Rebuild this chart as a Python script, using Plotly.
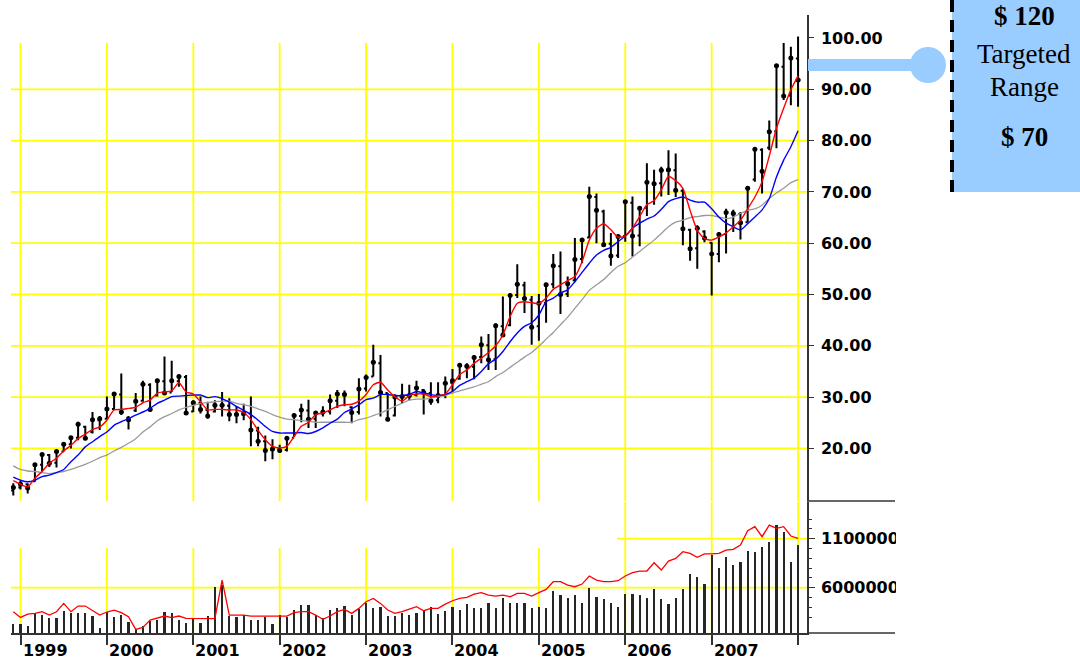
import plotly.graph_objects as go

W, H = 1080, 659

# ---------------- data ----------------
month_names = ["Jan", "Feb", "Mar", "Apr", "May", "Jun", "Jul", "Aug", "Sep", "Oct", "Nov", "Dec"]
months = ["Dec 1998"] + [f"{m} {y}" for y in range(1999, 2008) for m in month_names] + ["Jan 2008"]

year_labels = ["1999", "2000", "2001", "2002", "2003", "2004", "2005", "2006", "2007"]
price_ticks = [20, 30, 40, 50, 60, 70, 80, 90, 100]
grid_prices = [20, 30, 40, 50, 60, 70, 80, 90]
vol_ticks = [6000000, 11000000]
vol_tick_text = ["6000000", "11000000"]
vol_minor = [3000000, 4000000, 5000000, 6000000, 7000000, 8000000, 9000000,
             10000000, 11000000, 12000000, 13000000]

open_ = [11.8, 12.4, 13.0, 13.6, 16.8, 18.7, 17.2, 19.4, 20.8, 22.1,
         24.2, 23.2, 25.5, 25.8, 27.7, 30.5, 26.0, 27.4, 29.3, 32.4,
         30.3, 33.1, 30.9, 33.1, 33.9, 27.2, 28.8, 27.5, 27.2, 28.3,
         28.3, 26.7, 26.6, 26.8, 23.5, 21.4, 19.7, 19.9, 19.7, 22.1,
         26.3, 27.4, 25.8, 26.8, 27.2, 29.3, 30.6, 28.0, 27.1, 31.7,
         34.0, 36.6, 30.8, 26.4, 30.0, 30.2, 30.4, 31.4, 30.8, 29.4,
         30.4, 32.8, 33.6, 36.1, 35.9, 37.8, 40.1, 37.4, 43.8, 44.0,
         49.9, 51.8, 49.0, 43.8, 48.4, 52.0, 55.5, 50.1, 52.8, 56.9,
         61.1, 69.0, 66.2, 59.9, 57.6, 61.4, 67.9, 61.5, 66.9, 71.8,
         71.7, 74.1, 74.2, 70.2, 62.6, 59.0, 62.3, 60.1, 57.9, 61.8,
         66.0, 65.7, 64.1, 72.4, 78.2, 78.6, 81.8, 94.4, 88.8, 96.0]
high = [13.2, 13.7, 13.2, 17.1, 19.0, 18.9, 19.5, 21.1, 22.4, 25.2,
        24.4, 27.1, 26.3, 30.1, 30.8, 34.6, 26.3, 30.8, 33.2, 32.7,
        33.6, 37.9, 37.1, 34.3, 34.3, 29.4, 30.1, 29.1, 29.4, 31.0,
        29.8, 28.2, 28.7, 30.1, 24.2, 22.5, 21.8, 20.7, 22.3, 26.8,
        28.7, 29.5, 27.2, 28.2, 30.5, 31.4, 31.3, 28.2, 33.7, 34.4,
        40.2, 38.2, 30.8, 30.5, 32.6, 32.4, 33.2, 31.6, 32.9, 32.9,
        34.0, 35.5, 36.6, 36.6, 38.2, 41.8, 42.3, 44.4, 49.6, 50.3,
        55.9, 52.5, 49.7, 50.1, 52.3, 57.9, 58.4, 53.5, 61.0, 61.0,
        71.0, 69.7, 66.5, 62.0, 61.6, 68.4, 69.1, 67.1, 75.6, 74.3,
        74.9, 78.1, 77.5, 70.6, 62.8, 63.5, 62.5, 60.2, 62.2, 66.7,
        66.5, 66.1, 70.8, 78.5, 78.5, 83.9, 94.8, 99.0, 98.3, 100.3]
low = [10.8, 12.0, 11.2, 13.5, 15.5, 16.4, 16.3, 19.4, 20.0, 21.6,
       21.6, 22.9, 23.6, 25.8, 27.5, 26.5, 23.7, 27.1, 29.1, 27.5,
       30.1, 30.4, 31.0, 32.0, 26.5, 27.1, 26.8, 25.8, 27.0, 26.2,
       25.3, 24.9, 25.5, 20.4, 20.4, 17.5, 17.9, 19.1, 19.4, 22.3,
       25.1, 24.0, 24.0, 26.2, 26.6, 27.9, 28.2, 24.9, 26.6, 31.1,
       34.0, 26.2, 25.3, 26.2, 28.8, 29.4, 30.1, 26.6, 28.5, 28.8,
       29.8, 31.1, 33.4, 33.7, 33.5, 36.6, 35.3, 35.3, 41.8, 43.8,
       49.3, 46.4, 40.2, 41.0, 44.5, 51.2, 46.2, 49.5, 52.5, 56.1,
       61.0, 60.0, 59.3, 55.6, 57.1, 60.3, 57.4, 59.4, 65.3, 67.5,
       69.1, 69.4, 69.0, 59.6, 56.6, 55.0, 60.2, 49.8, 56.3, 58.0,
       62.2, 60.7, 64.1, 72.0, 69.7, 78.1, 78.5, 87.9, 86.9, 86.6]
close = [12.4, 13.0, 12.3, 16.8, 18.8, 17.1, 19.4, 20.8, 22.1, 24.7,
         22.0, 25.6, 25.8, 27.7, 30.6, 27.1, 25.6, 29.2, 32.5, 27.6,
         33.2, 30.8, 33.2, 34.0, 26.9, 28.9, 27.6, 26.3, 28.4, 28.4,
         26.6, 26.6, 26.8, 23.6, 21.4, 19.6, 19.9, 19.6, 22.0, 26.4,
         27.5, 25.7, 26.9, 27.1, 29.3, 30.6, 30.5, 27.0, 31.6, 33.8,
         36.8, 30.9, 25.7, 30.0, 30.1, 30.3, 31.8, 30.9, 29.3, 30.3,
         32.7, 33.2, 36.2, 36.0, 37.7, 40.2, 37.3, 43.9, 42.1, 49.8,
         52.0, 49.2, 43.6, 48.3, 51.9, 55.6, 50.0, 52.1, 56.8, 60.6,
         69.1, 66.4, 59.7, 57.5, 61.3, 68.1, 61.4, 66.8, 71.9, 71.6,
         74.2, 74.3, 70.3, 62.8, 58.9, 62.9, 61.0, 57.9, 61.7, 66.0,
         65.8, 64.0, 70.7, 78.3, 74.0, 81.7, 94.6, 88.7, 96.1, 91.8]

ma_red = [13.7, 13.0, 12.5, 14.2, 15.5, 17.1, 18.1, 19.5, 20.6, 21.9,
          22.8, 23.7, 24.2, 25.5, 27.5, 27.6, 27.8, 28.0, 28.9, 29.4,
          30.8, 31.0, 31.2, 32.8, 31.0, 30.6, 29.1, 27.5, 27.6, 27.6,
          27.5, 27.5, 27.0, 25.6, 23.5, 21.7, 20.4, 20.1, 20.4, 22.3,
          24.3, 25.1, 26.6, 26.9, 27.5, 28.2, 28.5, 28.6, 29.2, 30.5,
          32.4, 32.9, 31.4, 30.1, 29.2, 30.3, 30.6, 30.6, 30.1, 30.3,
          30.6, 32.4, 34.4, 35.3, 36.6, 37.6, 38.7, 40.0, 42.1, 45.7,
          48.3, 48.6, 48.4, 48.2, 49.3, 51.0, 51.9, 52.7, 53.5, 56.4,
          60.6, 62.9, 63.8, 62.6, 61.2, 61.4, 62.9, 65.2, 67.5, 68.3,
          70.4, 73.0, 72.2, 70.7, 66.4, 62.5, 60.9, 60.6, 61.2, 62.0,
          63.2, 64.5, 66.7, 69.0, 72.0, 77.0, 82.4, 86.3, 89.9, 92.6]
ma_blue = [14.4, 13.8, 13.5, 13.8, 14.5, 14.8, 15.3, 15.9, 17.4, 18.7,
           20.3, 21.3, 22.3, 23.2, 24.5, 25.2, 25.8, 26.5, 27.1, 27.8,
           28.8, 29.4, 30.1, 30.2, 30.3, 30.4, 30.4, 29.9, 30.1, 29.7,
           29.0, 28.2, 27.4, 26.6, 25.5, 24.3, 23.3, 23.0, 23.0, 23.0,
           23.1, 22.9, 23.3, 24.0, 24.9, 25.7, 27.0, 27.7, 28.5, 29.5,
           29.8, 30.5, 30.5, 30.3, 30.3, 30.5, 31.1, 30.8, 30.5, 30.3,
           30.5, 31.1, 32.3, 33.0, 33.7, 35.0, 36.5, 37.4, 38.9, 40.8,
           42.5, 43.8, 44.5, 46.0, 48.6, 49.3, 50.3, 50.9, 52.5, 54.3,
           56.1, 57.7, 58.6, 59.2, 60.3, 61.4, 62.9, 63.9, 64.7, 65.3,
           66.6, 68.1, 68.7, 69.0, 68.4, 68.0, 68.0, 66.7, 65.1, 63.9,
           63.2, 62.6, 63.8, 65.1, 66.5, 68.7, 72.9, 76.2, 78.8, 81.9]
ma_gray = [16.6, 15.9, 15.6, 15.5, 15.3, 15.1, 15.3, 15.5, 15.9, 16.4,
           16.9, 17.5, 18.2, 18.7, 19.5, 20.2, 21.0, 21.9, 23.2, 24.2,
           25.4, 26.2, 26.8, 27.5, 28.0, 28.4, 28.8, 28.9, 29.1, 29.2,
           29.2, 28.8, 28.5, 28.2, 27.7, 27.2, 26.6, 26.1, 25.7, 25.6,
           25.4, 25.3, 25.1, 25.1, 25.1, 25.1, 25.1, 25.1, 25.6, 25.9,
           26.4, 26.9, 27.5, 28.2, 28.8, 29.4, 29.6, 29.6, 29.8, 30.1,
           30.3, 30.8, 31.2, 31.6, 32.0, 32.5, 33.0, 34.0, 34.8, 35.8,
           36.8, 37.8, 38.7, 39.9, 41.3, 42.6, 44.1, 45.6, 47.3, 49.0,
           50.8, 51.9, 52.9, 54.3, 55.5, 56.2, 57.3, 58.4, 59.5, 60.6,
           61.9, 63.2, 64.1, 64.5, 65.0, 65.2, 65.4, 65.4, 65.1, 64.8,
           65.1, 65.8, 66.4, 66.7, 67.4, 68.7, 69.8, 70.7, 71.8, 72.4]

volume = [2290000, 2290000, 2120000, 3380000, 3210000, 2870000, 2870000, 3650000, 3380000, 3380000,
          3450000, 3140000, 1900000, 3550000, 3040000, 3210000, 2530000, 1750000, 2090000, 2630000,
          2700000, 3550000, 3380000, 2700000, 2430000, 2770000, 2360000, 3110000, 6100000, 6270000,
          3110000, 3040000, 3210000, 2700000, 2700000, 3040000, 2290000, 3210000, 3040000, 3720000,
          4230000, 4230000, 3210000, 2870000, 3720000, 3890000, 4130000, 3210000, 3790000, 4400000,
          3890000, 3990000, 3110000, 3110000, 3450000, 3210000, 3450000, 3650000, 3990000, 3310000,
          3620000, 4060000, 3720000, 4330000, 3890000, 3890000, 4470000, 3890000, 4910000, 4470000,
          4470000, 4470000, 3890000, 4060000, 3890000, 5690000, 5220000, 4910000, 5220000, 4470000,
          5930000, 5080000, 4810000, 4470000, 4060000, 5350000, 5350000, 5220000, 4910000, 5830000,
          4810000, 4330000, 4910000, 5830000, 7390000, 7120000, 6370000, 9330000, 7970000, 9160000,
          8280000, 8620000, 9780000, 9640000, 10180000, 10630000, 12390000, 11650000, 8620000, 10350000]
vol_ma = [3550000, 2970000, 3310000, 3380000, 3550000, 3210000, 3550000, 4400000, 3550000, 4130000,
          4130000, 3650000, 3210000, 3520000, 3720000, 3450000, 3040000, 1750000, 1950000, 2700000,
          2870000, 3110000, 2940000, 3110000, 2870000, 2870000, 2840000, 2840000, 2840000, 6780000,
          3210000, 3210000, 3210000, 3110000, 3110000, 3110000, 3110000, 3110000, 3110000, 3450000,
          3550000, 3550000, 3210000, 2770000, 3110000, 3550000, 3790000, 3380000, 3890000, 4570000,
          4910000, 4400000, 3720000, 3380000, 3550000, 3820000, 4060000, 3650000, 3890000, 3890000,
          4330000, 4670000, 4910000, 5010000, 5350000, 5490000, 5250000, 5150000, 5250000, 5080000,
          5420000, 5420000, 5150000, 5490000, 5830000, 6610000, 6610000, 6270000, 6100000, 6370000,
          7190000, 6780000, 6610000, 6610000, 6710000, 7190000, 7530000, 7700000, 7700000, 8550000,
          7800000, 8720000, 8990000, 9670000, 9500000, 9100000, 9440000, 9440000, 9500000, 9840000,
          9910000, 10350000, 11820000, 12220000, 11200000, 12390000, 12050000, 12220000, 11270000, 11030000]

# ---------------- geometry helpers (pixel -> paper) ----------------
def px(x):
    return x / W


def py(y):
    return (H - y) / H


x_idx = list(range(len(months)))
jan_idx = [months.index(f"Jan {y}") for y in range(1999, 2009)]
x_range = [-0.32, 110.24]
price_range = [9.75, 104.48]
vol_range = [1380000, 14740000]

YELLOW = "#FFFF00"
AXIS = "#333333"
tick_font = dict(family="DejaVu Sans", size=16, color="black", weight="bold")

fig = go.Figure()

# OHLC bars
fig.add_trace(go.Ohlc(
    x=x_idx, open=open_, high=high, low=low, close=close,
    increasing=dict(line=dict(color="black", width=2)),
    decreasing=dict(line=dict(color="black", width=2)),
    tickwidth=0.3, xaxis="x", yaxis="y", showlegend=False, hoverinfo="skip"))
fig.add_trace(go.Scatter(
    x=x_idx, y=close, mode="markers",
    marker=dict(color="black", size=5, symbol="circle"),
    xaxis="x", yaxis="y", showlegend=False, hoverinfo="skip"))

# moving averages
fig.add_trace(go.Scatter(x=x_idx, y=ma_gray, mode="lines",
                         line=dict(color="#9A9A9A", width=1.3, shape="spline", smoothing=0.6),
                         xaxis="x", yaxis="y", showlegend=False))
fig.add_trace(go.Scatter(x=x_idx, y=ma_blue, mode="lines",
                         line=dict(color="#0000FF", width=1.4, shape="spline", smoothing=0.6),
                         xaxis="x", yaxis="y", showlegend=False))
fig.add_trace(go.Scatter(x=x_idx, y=ma_red, mode="lines",
                         line=dict(color="#FF0000", width=1.4, shape="spline", smoothing=0.6),
                         xaxis="x", yaxis="y", showlegend=False))

# volume
fig.add_trace(go.Bar(x=x_idx, y=volume, width=0.3, marker=dict(color="#262626", line=dict(width=0)),
                     xaxis="x2", yaxis="y2", showlegend=False))
fig.add_trace(go.Scatter(x=x_idx, y=vol_ma, mode="lines",
                         line=dict(color="#FF0000", width=1.3),
                         xaxis="x2", yaxis="y2", showlegend=False))

shapes = []
# price panel horizontal grid
for p in grid_prices:
    shapes.append(dict(type="line", xref="paper", yref="y", x0=px(11), x1=px(807), y0=p, y1=p,
                       line=dict(color=YELLOW, width=1.8), layer="below"))
# price panel vertical grid
for j in jan_idx:
    shapes.append(dict(type="line", xref="x", yref="y", x0=j, x1=j, y0=99.0, y1=price_range[0],
                       line=dict(color=YELLOW, width=1.8), layer="below"))
# volume panel grid
shapes.append(dict(type="line", xref="paper", yref="y2", x0=px(11), x1=px(807),
                   y0=vol_ticks[0], y1=vol_ticks[0], line=dict(color=YELLOW, width=1.8), layer="below"))
shapes.append(dict(type="line", xref="paper", yref="y2", x0=px(617), x1=px(807),
                   y0=vol_ticks[1], y1=vol_ticks[1], line=dict(color=YELLOW, width=1.8), layer="below"))
for j in jan_idx:
    top = vol_range[1] if j >= 84 else 10050000
    shapes.append(dict(type="line", xref="x2", yref="y2", x0=j, x1=j, y0=vol_range[0], y1=top,
                       line=dict(color=YELLOW, width=1.8), layer="below"))
# axis extensions to the right
shapes.append(dict(type="line", xref="paper", yref="paper", x0=px(807), x1=px(895), y0=py(501), y1=py(501),
                   line=dict(color=AXIS, width=1.5)))
shapes.append(dict(type="line", xref="paper", yref="paper", x0=px(807), x1=px(895), y0=py(633), y1=py(633),
                   line=dict(color=AXIS, width=1.5)))
# clip area to the right of the original chart image
shapes.append(dict(type="rect", xref="paper", yref="paper", x0=px(896), x1=px(1085), y0=py(659), y1=py(495),
                   fillcolor="white", line=dict(width=0), layer="above"))
# callout: connector bar + knob
shapes.append(dict(type="rect", xref="paper", yref="paper", x0=px(808), x1=px(928), y0=py(71), y1=py(59),
                   fillcolor="#99CCFF", line=dict(width=0), layer="above"))
shapes.append(dict(type="circle", xref="paper", yref="paper", x0=px(910), x1=px(946), y0=py(83), y1=py(47),
                   fillcolor="#99CCFF", line=dict(width=0), layer="above"))
# callout box
shapes.append(dict(type="rect", xref="paper", yref="paper", x0=px(952), x1=px(1100), y0=py(192), y1=py(-20),
                   fillcolor="#99CCFF", line=dict(width=0), layer="above"))
shapes.append(dict(type="line", xref="paper", yref="paper", x0=px(952), x1=px(952), y0=py(192), y1=py(-5),
                   line=dict(color="black", width=4, dash="12px,8px"), layer="above"))

annotations = []
for lbl in year_labels:
    annotations.append(dict(text=lbl, xref="x2", yref="paper", x=months.index(f"Jan {lbl}"), y=py(650),
                            xanchor="left", yanchor="middle", xshift=0, showarrow=False,
                            font=tick_font))
serif = "Liberation Serif, Times New Roman, serif"
annotations += [
    dict(text="<b>$ 120</b>", xref="paper", yref="paper", x=px(1024), y=py(16), showarrow=False,
         xanchor="center", yanchor="middle", font=dict(family=serif, size=27, color="black")),
    dict(text="Targeted", xref="paper", yref="paper", x=px(1024), y=py(54), showarrow=False,
         xanchor="center", yanchor="middle", font=dict(family=serif, size=27, color="black")),
    dict(text="Range", xref="paper", yref="paper", x=px(1024), y=py(87), showarrow=False,
         xanchor="center", yanchor="middle", font=dict(family=serif, size=27, color="black")),
    dict(text="<b>$ 70</b>", xref="paper", yref="paper", x=px(1024), y=py(137), showarrow=False,
         xanchor="center", yanchor="middle", font=dict(family=serif, size=27, color="black")),
]

fig.update_layout(
    width=W, height=H, margin=dict(l=0, r=0, t=0, b=0),
    paper_bgcolor="white", plot_bgcolor="white",
    showlegend=False, bargap=0,
    xaxis=dict(domain=[px(11), px(807)], range=x_range, visible=False, showgrid=False,
               zeroline=False, rangeslider=dict(visible=False), anchor="y", fixedrange=True),
    yaxis=dict(domain=[py(501), py(15)], range=price_range, side="right", anchor="x",
               showgrid=False, zeroline=False, showline=True, linecolor=AXIS, linewidth=1.5,
               ticks="outside", ticklen=5, tickwidth=1.3, tickcolor=AXIS,
               tickvals=price_ticks, ticktext=[f"{v:.2f}" for v in price_ticks],
               tickfont=tick_font, ticklabelstandoff=4, fixedrange=True),
    xaxis2=dict(domain=[px(11), px(807)], range=x_range, anchor="y2", showgrid=False, zeroline=False,
                showline=True, linecolor=AXIS, linewidth=1.5, ticks="outside", ticklen=10,
                tickwidth=1.5, tickcolor=AXIS, tickvals=jan_idx, showticklabels=False,
                fixedrange=True),
    yaxis2=dict(domain=[py(633), py(502)], range=vol_range, side="right", anchor="x2",
                showgrid=False, zeroline=False, showline=True, linecolor=AXIS, linewidth=1.5,
                ticks="outside", ticklen=6, tickwidth=1.3, tickcolor=AXIS,
                tickvals=vol_ticks, ticktext=vol_tick_text, tickfont=tick_font,
                ticklabelstandoff=3,
                minor=dict(tickmode="array", tickvals=vol_minor, ticks="outside", ticklen=3,
                           tickwidth=1, tickcolor=AXIS, showgrid=False),
                fixedrange=True),
    shapes=shapes, annotations=annotations,
)

fig.write_html("out.html", config={"displayModeBar": False},
               post_script="document.body.style.margin='0';document.body.style.overflow='hidden';")
